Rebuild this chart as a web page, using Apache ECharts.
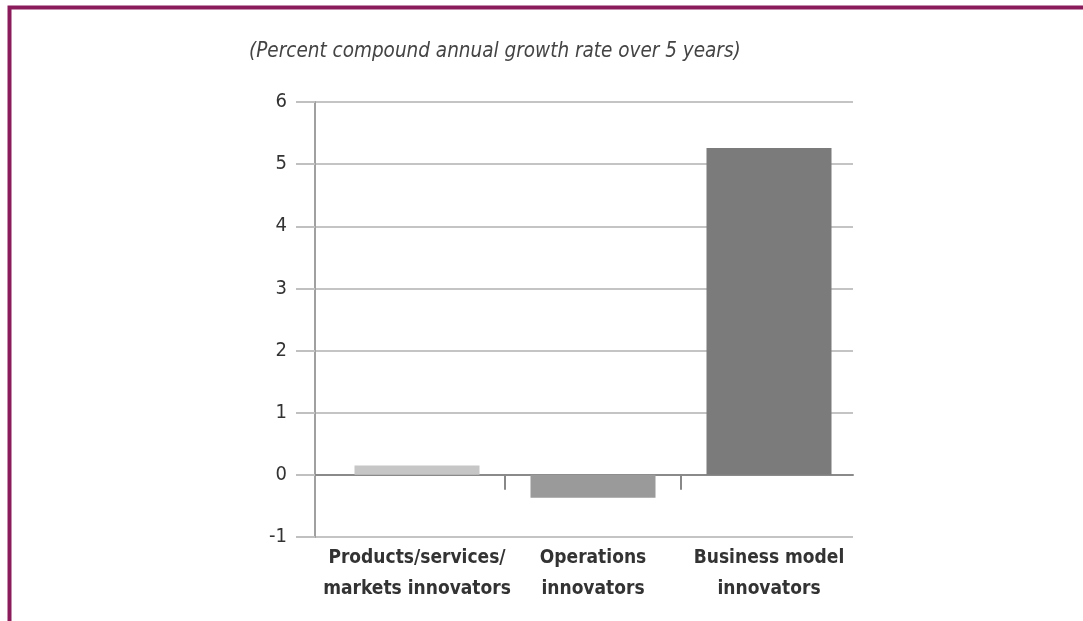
<!DOCTYPE html>
<html>
<head>
<meta charset="utf-8">
<script src="https://cdn.jsdelivr.net/npm/echarts@6/dist/echarts.min.js"></script>
<style>html,body{margin:0;padding:0;background:#fff}#c{width:1083px;height:621px}</style>
</head>
<body>
<div id="c"></div>
<script>
const categories = ['Products/services/\nmarkets innovators', 'Operations\ninnovators', 'Business model\ninnovators'];
const values = [0.15, -0.37, 5.26];
const barColors = ['#c6c6c6', '#9a9a9a', '#7b7b7b'];
const titleText = '(Percent compound annual growth rate over 5 years)';
const yMin = -1, yMax = 6, yStep = 1;

const font = "'Liberation Sans Narrow', 'Arial Narrow', 'DejaVu Sans Condensed', Roboto, sans-serif";
const chart = echarts.init(document.getElementById('c'));
chart.setOption({
  animation: false,
  backgroundColor: '#fff',
  graphic: [{
    type: 'rect', left: 7, top: 5, silent: true,
    shape: { width: 1200, height: 700 },
    style: { fill: 'none', stroke: '#8b1c5b', lineWidth: 4 }
  }],
  title: {
    text: titleText, left: 244, top: 37,
    textStyle: { fontFamily: font, fontStyle: 'italic', fontWeight: 'normal', fontSize: 20.5, color: '#444' }
  },
  grid: [
    { left: 315, width: 538, top: 102, height: 435 },
    { left: 329, width: 528, top: 102, height: 435 }
  ],
  yAxis: [{
    gridIndex: 0, type: 'value', min: yMin, max: yMax, interval: yStep,
    axisLine: { show: true, lineStyle: { color: '#a0a0a0', width: 2 } },
    axisTick: { show: true, length: 19, lineStyle: { color: '#c0c0c0', width: 2 } },
    axisLabel: { margin: 28, fontFamily: font, fontSize: 20, color: '#333' },
    splitLine: { show: true, lineStyle: { color: '#c4c4c4', width: 2 } }
  }, {
    gridIndex: 1, type: 'value', min: yMin, max: yMax, interval: yStep, show: false
  }],
  xAxis: [{
    gridIndex: 0, type: 'value', min: 0, max: 1,
    axisLine: { show: true, onZero: true, lineStyle: { color: '#8a8a8a', width: 2 } },
    axisTick: { show: false }, axisLabel: { show: false }, splitLine: { show: false }
  }, {
    gridIndex: 1, type: 'category', data: categories,
    axisLine: { show: false, onZero: false },
    axisTick: { show: false },
    axisLabel: { margin: 6, fontFamily: font, fontWeight: 'bold', fontSize: 19, lineHeight: 31, color: '#333', interval: 0 }
  }, {
    gridIndex: 1, type: 'value', min: 0, max: categories.length,
    axisLine: { show: false, onZero: true },
    axisTick: { show: true, inside: true, length: 15, customValues: [1, 2], lineStyle: { color: '#888', width: 2 } },
    axisLabel: { show: false }, splitLine: { show: false }
  }],
  series: [{
    type: 'bar', xAxisIndex: 1, yAxisIndex: 1,
    barWidth: 125,
    data: values.map((v, i) => ({ value: v, itemStyle: { color: barColors[i] } }))
  }]
});
</script>
</body>
</html>
